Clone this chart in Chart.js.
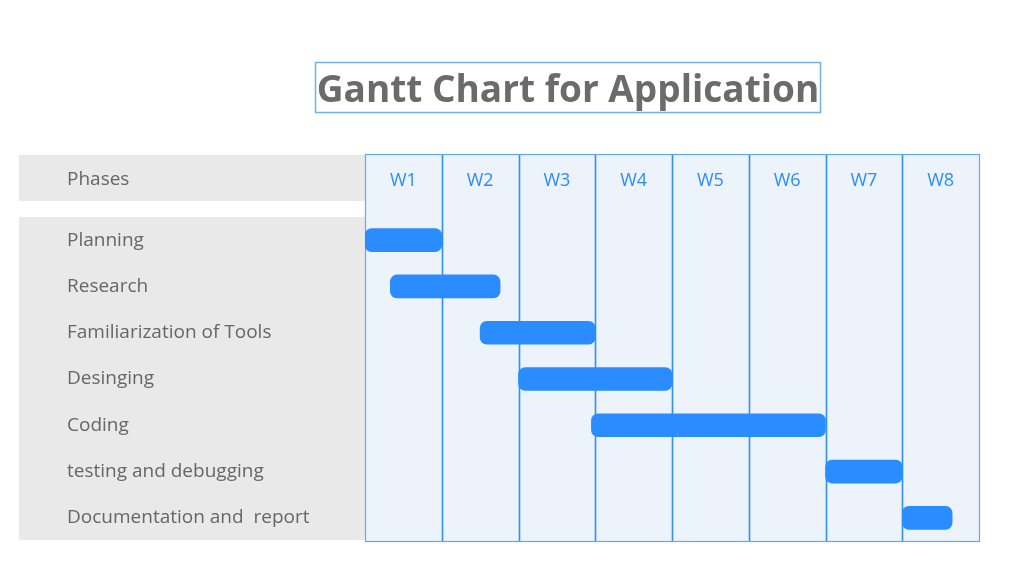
<!DOCTYPE html>
<html>
<head>
<meta charset="utf-8">
<script src="https://cdn.jsdelivr.net/npm/chart.js@4/dist/chart.umd.min.js"></script>
<style>
html,body{margin:0;padding:0;background:#fff;}
#wrap{width:1033px;height:571px;position:relative;}
</style>
</head>
<body>
<div id="wrap"><canvas id="c" width="1033" height="571"></canvas></div>
<script>
const titleText = "Gantt Chart for Application";
const headerLabel = "Phases";
const weeks = ["W1","W2","W3","W4","W5","W6","W7","W8"];
const phases = ["Planning","Research","Familiarization of Tools","Desinging","Coding","testing and debugging","Documentation and  report"];
const startWeek = [0, 0.33, 1.5, 2, 2.95, 6, 7];
const endWeek   = [1, 1.76, 3, 4, 6, 7, 7.65];

const FONT = "'Open Sans', 'Noto Sans', sans-serif";

const decor = {
  id: 'decor',
  beforeDraw(chart) {
    const ctx = chart.ctx;
    const x = chart.scales.x;
    const area = chart.chartArea;
    const left = x.getPixelForValue(0), right = x.getPixelForValue(weeks.length);
    const gTop = 154, gBot = area.bottom;
    ctx.save();
    // grey panels
    ctx.fillStyle = '#e9e9e9';
    ctx.fillRect(19, 155, left - 19, 46);
    ctx.fillRect(19, area.top, left - 19, area.bottom - area.top - 1);
    // blue grid fill
    ctx.fillStyle = '#edf3fb';
    ctx.fillRect(left, gTop, right - left, gBot - gTop);
    // vertical lines
    ctx.strokeStyle = '#3090f5';
    ctx.lineWidth = 1.6;
    for (let i = 1; i < weeks.length; i++) {
      const px = Math.round(x.getPixelForValue(i)) + 0.5;
      ctx.beginPath(); ctx.moveTo(px, gTop); ctx.lineTo(px, gBot); ctx.stroke();
    }
    // outer border
    ctx.strokeStyle = '#5eaaf5';
    ctx.lineWidth = 1.2;
    ctx.strokeRect(Math.round(left) + 0.5, gTop + 0.5, Math.round(right - left), Math.round(gBot - gTop));
    // header label
    ctx.fillStyle = '#666666';
    ctx.font = "19px " + FONT;
    ctx.textAlign = 'left';
    ctx.textBaseline = 'middle';
    ctx.fillText(headerLabel, 67, 180);
    // title
    ctx.font = "bold 37px " + FONT;
    ctx.textAlign = 'center';
    ctx.fillStyle = '#6b6b6b';
    const tx = 568, ty = 91;
    ctx.fillText(titleText, tx, ty);
    const w = ctx.measureText(titleText).width;
    ctx.strokeStyle = '#6ab4f5';
    ctx.lineWidth = 1.5;
    ctx.strokeRect(Math.round(tx - w/2) - 1.5, 62.5, Math.round(w) + 3, 50);
    ctx.restore();
  }
};

new Chart(document.getElementById('c'), {
  type: 'bar',
  data: {
    labels: phases,
    datasets: [{
      data: phases.map((p, i) => [startWeek[i], endWeek[i]]),
      backgroundColor: '#2a8cff',
      borderSkipped: false,
      borderRadius: 7,
      barThickness: 23,
      xAxisID: 'x',
      yAxisID: 'y'
    }]
  },
  options: {
    indexAxis: 'y',
    responsive: false,
    animation: false,
    devicePixelRatio: 1,
    layout: { padding: { left: 67, right: 54, top: 154, bottom: 30 } },
    plugins: { legend: { display: false }, tooltip: { enabled: false }, title: { display: false } },
    scales: {
      x: {
        type: 'linear', position: 'top', min: 0, max: weeks.length,
        display: false
      },
      xw: {
        type: 'category', position: 'top', labels: weeks, offset: true,
        grid: { display: false, drawTicks: false },
        border: { display: false },
        ticks: { color: '#2a8cff', font: { family: FONT, size: 18 }, padding: 25, maxRotation: 0 },
        afterFit(s) { s.height = 63; }
      },
      y: {
        type: 'category',
        grid: { display: false, drawTicks: false },
        border: { display: false },
        ticks: { color: '#666666', font: { family: FONT, size: 19 }, crossAlign: 'far', padding: 0 },
        afterFit(s) { s.width = 298; }
      }
    }
  },
  plugins: [decor]
});
</script>
</body>
</html>
